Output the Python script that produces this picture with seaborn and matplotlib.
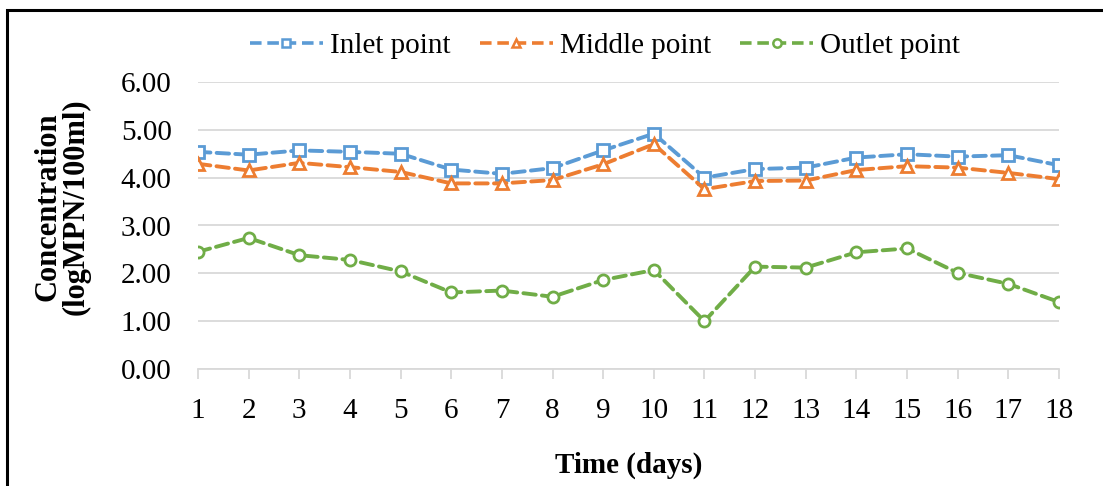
import matplotlib
matplotlib.use("Agg")
import matplotlib.pyplot as plt
import seaborn as sns
import pandas as pd
from matplotlib.lines import Line2D

days = list(range(1, 19))
inlet = [4.54, 4.48, 4.57, 4.54, 4.50, 4.17, 4.08, 4.20, 4.57, 4.92, 4.00, 4.18, 4.21, 4.42, 4.49, 4.44, 4.47, 4.26]
middle = [4.29, 4.15, 4.31, 4.22, 4.12, 3.88, 3.88, 3.95, 4.28, 4.70, 3.76, 3.93, 3.94, 4.16, 4.24, 4.21, 4.10, 3.97]
outlet = [2.45, 2.74, 2.38, 2.28, 2.04, 1.60, 1.64, 1.51, 1.86, 2.07, 1.00, 2.14, 2.12, 2.44, 2.52, 2.01, 1.78, 1.40]
series_names = ["Inlet point", "Middle point", "Outlet point"]
colors = ["#5B9BD5", "#ED7D31", "#70AD47"]
markers = ["s", "^", "o"]
yticks = [0, 1, 2, 3, 4, 5, 6]

df = pd.DataFrame({
    "day": days * 3,
    "value": inlet + middle + outlet,
    "series": [series_names[0]] * 18 + [series_names[1]] * 18 + [series_names[2]] * 18,
})

sns.set_theme(style="white")
plt.rcParams["font.family"] = ["Liberation Serif", "DejaVu Serif"]
plt.rcParams["text.color"] = "black"
plt.rcParams["axes.labelcolor"] = "black"
plt.rcParams["xtick.color"] = "black"
plt.rcParams["ytick.color"] = "black"

FS = 21
fig = plt.figure(figsize=(11.03, 4.86), dpi=100)
ax = fig.add_axes([198 / 1103, 1 - 369 / 486, (1059 - 198) / 1103, (369 - 82) / 486])

dash = (3.2, 1.6)
for name, c, m in zip(series_names, colors, markers):
    sub = df[df["series"] == name]
    sns.lineplot(data=sub, x="day", y="value", ax=ax, color=c, linewidth=2.8,
                 marker=m, markersize=8 if m != "^" else 8.5, markerfacecolor="white",
                 markeredgecolor=c, markeredgewidth=2.0, dashes=False, legend=False,
                 zorder=3)
    ax.lines[-1].set_linestyle((0, dash))
    ax.lines[-1].set_dash_capstyle("round")

ax.set_xlim(1, 18)
ax.set_ylim(0, 6)
ax.set_yticks(yticks)
ax.set_yticklabels([f"{v:.2f}" for v in yticks], fontsize=FS)
ax.set_xticks(days)
ax.set_xticklabels([str(d) for d in days], fontsize=FS)
ax.yaxis.grid(True, color="#D9D9D9", linewidth=1.3)
ax.xaxis.grid(False)
for s in ["top", "right", "left"]:
    ax.spines[s].set_visible(False)
ax.spines["bottom"].set_color("#D9D9D9")
ax.spines["bottom"].set_linewidth(1.3)
ax.tick_params(axis="x", which="both", bottom=True, length=7, width=1.3, color="#D9D9D9",
               pad=14, labelcolor="black", direction="out")
ax.tick_params(axis="y", length=0, pad=19, labelcolor="black")
ax.set_xlabel("Time (days)", fontsize=FS, fontweight="bold", labelpad=20, color="black")
ax.set_ylabel("Concentration\n(logMPN/100ml)", fontsize=22, fontweight="bold",
              labelpad=22, linespacing=0.95, color="black")
ax.yaxis.label.set_y((369 - 207) / 287)

handles = [Line2D([0], [0], color=c, linewidth=2.6, linestyle=(0, dash), marker=m,
                  markersize=6, markerfacecolor="white", markeredgecolor=c,
                  markeredgewidth=1.8) for c, m in zip(colors, markers)]
leg = fig.legend(handles, series_names, loc="center", bbox_to_anchor=(605 / 1103, 1 - 46 / 486),
                 ncol=3, frameon=False, fontsize=FS, handlelength=2.5, handletextpad=0.25,
                 columnspacing=1.0)
for t in leg.get_texts():
    t.set_color("black")

border = plt.Rectangle((7 / 1103, -0.05), 1.2, 1 - 10 / 486 + 0.05, transform=fig.transFigure,
                       fill=False, edgecolor="black", linewidth=2.2)
fig.add_artist(border)

fig.savefig("out.png", dpi=100, facecolor="white")
